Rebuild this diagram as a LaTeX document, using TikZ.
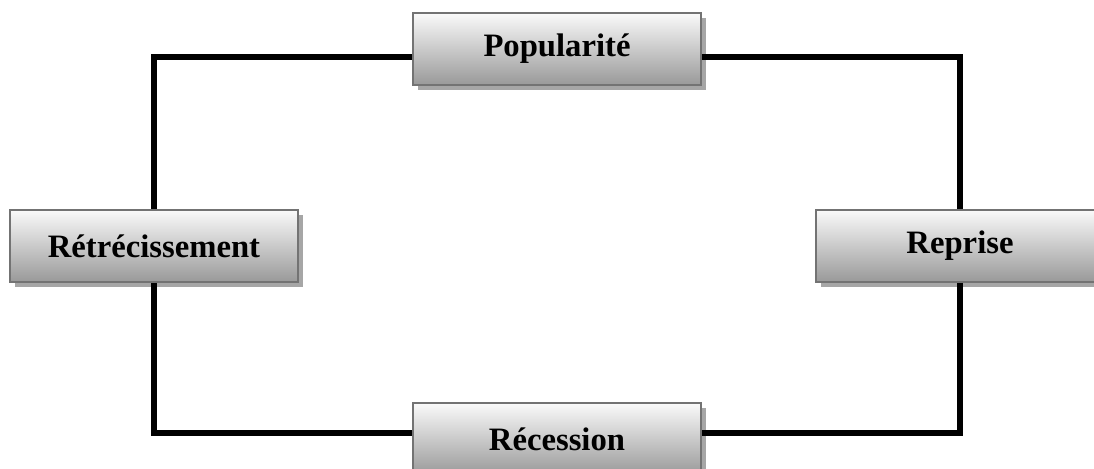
\documentclass[tikz,border=0pt]{standalone}
\usepackage{fontspec}
\setmainfont{Liberation Serif}
\usepackage{xcolor}
\usepackage{tikz}
\usetikzlibrary{shadows}
\tikzset{
	phasebox/.style={rectangle, draw=black!55, line width=1.2pt, top color=black!2, bottom color=black!40,
		minimum width=216pt, minimum height=54pt, inner sep=0pt, font=\fontsize{24.5}{29}\selectfont\bfseries,
		drop shadow={shadow xshift=3.5pt, shadow yshift=-3.5pt, fill=black!35, opacity=1}},
	cycleline/.style={draw=black, line width=4.2pt}
}

\begin{document}
\begin{tikzpicture}[x=0.75pt, y=-0.75pt]
		
		\useasboundingbox (0,0) rectangle (1094,468);
		\clip (0,0) rectangle (1094,468);
		
		\node[phasebox] at (557,49) (pop)    {Popularité};
		\node[phasebox] at (154,246) (retr)  {Rétrécissement};
		\node[phasebox] at (960,246) (rep)   {Reprise};
		\node[phasebox] at (557,439) (rec)   {Récession};
		
		\draw[cycleline] (retr.north) |- ([yshift=-6pt]pop.west);
		\draw[cycleline] ([yshift=-6pt]pop.east) -| (rep.north);
		\draw[cycleline] (rep.south) |- ([yshift=4.5pt]rec.east);
		\draw[cycleline] ([yshift=4.5pt]rec.west) -| (retr.south);
	\end{tikzpicture}
\end{document}
